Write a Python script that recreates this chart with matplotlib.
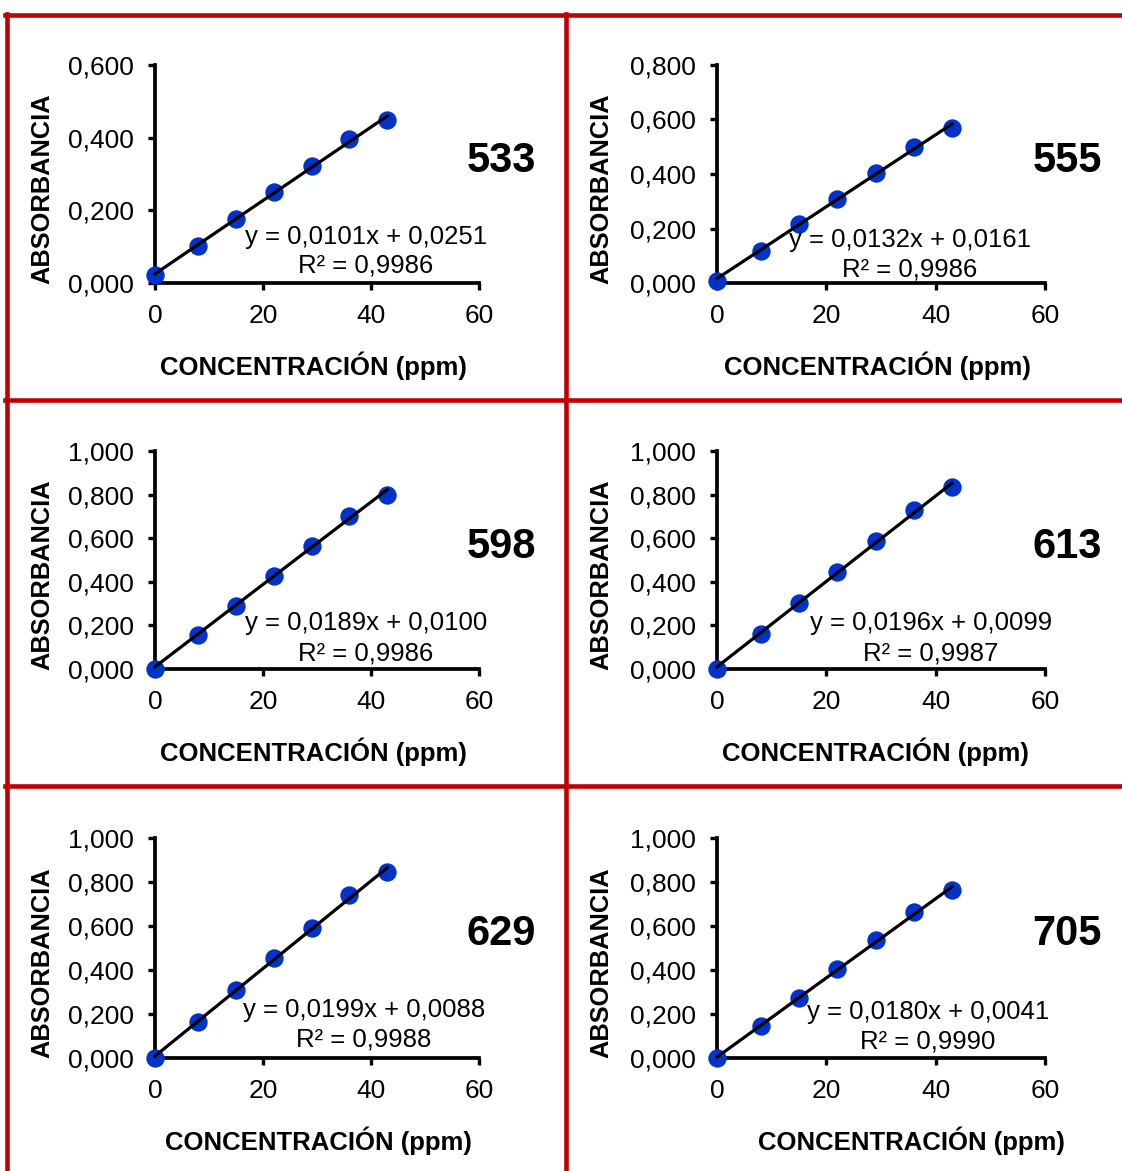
import matplotlib
matplotlib.use("Agg")
import matplotlib.pyplot as plt
from matplotlib.ticker import FuncFormatter, MultipleLocator
from matplotlib.lines import Line2D

plt.rcParams['font.family'] = ['Liberation Sans', 'DejaVu Sans']

# ---------------- data ----------------
wavelengths = ["533", "555", "598", "613", "629", "705"]
concentration = [0, 8, 15, 22, 29, 36, 43]
abs_533 = [0.022, 0.102, 0.176, 0.250, 0.322, 0.396, 0.449]
abs_555 = [0.007, 0.117, 0.217, 0.308, 0.404, 0.499, 0.569]
abs_598 = [0.000, 0.156, 0.289, 0.427, 0.564, 0.702, 0.798]
abs_613 = [0.000, 0.161, 0.303, 0.445, 0.587, 0.729, 0.835]
abs_629 = [0.000, 0.164, 0.309, 0.455, 0.591, 0.741, 0.845]
abs_705 = [0.000, 0.145, 0.273, 0.405, 0.536, 0.664, 0.764]
absorbances = [abs_533, abs_555, abs_598, abs_613, abs_629, abs_705]
slopes = [0.0101, 0.0132, 0.0189, 0.0196, 0.0199, 0.0180]
intercepts = [0.0251, 0.0161, 0.0100, 0.0099, 0.0088, 0.0041]
r2_values = [0.9986, 0.9986, 0.9986, 0.9987, 0.9988, 0.9990]
y_max = [0.6, 0.8, 1.0, 1.0, 1.0, 1.0]
y_step = [0.2, 0.2, 0.2, 0.2, 0.2, 0.2]
x_max = 60
x_step = 20

# ---------------- layout (pixels) ----------------
W, H = 1122, 1171
fig = plt.figure(figsize=(W / 100, H / 100), dpi=100)

def fx(x):
    return x / W

def fy(y):
    return 1 - y / H

# axes boxes: left, right, top, bottom in pixels
col_lr = [(155, 479), (717, 1045)]
row_tb = [(65, 283), (451, 669), (838, 1058)]
ylab_x = [42, 601]
xlab = [(313, 366), (877, 366), (313, 752), (875, 752), (318, 1141), (911, 1141)]
numpos = [(536, 161), (1102, 161), (536, 547), (1102, 547), (536, 934), (1102, 934)]
eqpos = [(366, 237, 266), (910, 240, 270), (366, 623, 653),
         (931, 623, 653), (364, 1010, 1039), (928, 1012, 1041)]

fmt = FuncFormatter(lambda v, p: f"{v:.3f}".replace(".", ","))

for i in range(6):
    r, c = divmod(i, 2)
    l, rr = col_lr[c]
    t, b = row_tb[r]
    ax = fig.add_axes([fx(l), fy(b), (rr - l) / W, (b - t) / H])
    ax.set_xlim(0, x_max)
    ax.set_ylim(0, y_max[i])
    ax.xaxis.set_major_locator(MultipleLocator(x_step))
    ax.yaxis.set_major_locator(MultipleLocator(y_step[i]))
    ax.yaxis.set_major_formatter(fmt)
    for s in ["top", "right"]:
        ax.spines[s].set_visible(False)
    for s in ["left", "bottom"]:
        ax.spines[s].set_linewidth(2.7)
        ax.spines[s].set_color("black")
    ax.tick_params(axis="both", direction="out", length=5, width=2.4,
                   labelsize=19, colors="black")
    ax.tick_params(axis="y", pad=10)
    ax.tick_params(axis="x", pad=10)
    ax.patch.set_alpha(0)

    xs = concentration
    ys = absorbances[i]
    ax.scatter(xs, ys, s=175, color="#0033CC", zorder=3, clip_on=False,
               linewidths=0)
    x_line = [min(xs), max(xs)]
    y_line = [slopes[i] * x + intercepts[i] for x in x_line]
    ax.plot(x_line, y_line, color="black", lw=2.3, zorder=4, clip_on=False)

    # labels
    fig.text(fx(ylab_x[c]), fy((t + b) / 2 + 15), "ABSORBANCIA", rotation=90,
             ha="center", va="center", fontsize=18.3, fontweight="bold")
    xlx, xly = xlab[i]
    fig.text(fx(xlx), fy(xly), "CONCENTRACIÓN (ppm)", ha="center",
             va="center", fontsize=18.5, fontweight="bold")
    nx, ny = numpos[i]
    fig.text(fx(nx), fy(ny), wavelengths[i], ha="right", va="center",
             fontsize=30, fontweight="bold")
    ex, ey1, ey2 = eqpos[i]
    eq = f"y = {slopes[i]:.4f}x + {intercepts[i]:.4f}".replace(".", ",")
    r2 = f"R² = {r2_values[i]:.4f}".replace(".", ",")
    fig.text(fx(ex), fy(ey1), eq, ha="center", va="center", fontsize=18.5)
    fig.text(fx(ex), fy(ey2), r2, ha="center", va="center", fontsize=18.5)

# red frame lines
red = "#C00000"
lw = 3.3
frame = [
    ((7, 7), (14, H + 5)),
    ((566, 566), (14, H + 5)),
    ((5, W + 5), (14.5, 14.5)),
    ((5, W + 5), (400, 400)),
    ((5, W + 5), (786, 786)),
]
for xsf, ysf in frame:
    fig.add_artist(Line2D([fx(v) for v in xsf], [fy(v) for v in ysf],
                          color=red, lw=lw, transform=fig.transFigure,
                          solid_capstyle="projecting"))

fig.savefig("out.png", dpi=100, facecolor="white")
